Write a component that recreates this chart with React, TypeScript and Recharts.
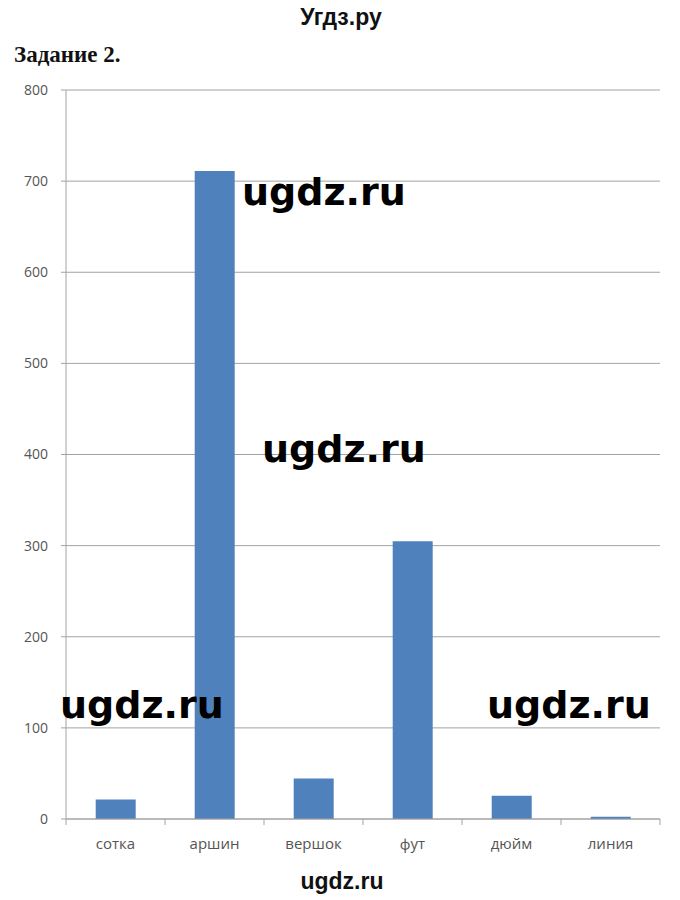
import React from 'react';
import { BarChart, Bar, XAxis, YAxis, CartesianGrid } from 'recharts';

// old Russian length units, in millimetres
const units = ['сотка', 'аршин', 'вершок', 'фут', 'дюйм', 'линия'];
const lengthsMm = [21.336, 711.2, 44.45, 304.8, 25.4, 2.54];
const yTicks = [0, 100, 200, 300, 400, 500, 600, 700, 800];

const data = units.map((name, i) => ({ name, mm: lengthsMm[i] }));

const W = 680;
const H = 900;
const LEFT = 66;
const RIGHT = 20;
const PLOT_W = W - LEFT - RIGHT;
const STEP = PLOT_W / units.length;

const GRID = '#a3a3a3';
const LABEL = '#555';
const AXIS_FONT = "'Open Sans', 'Liberation Sans', Arial, sans-serif";

const CategoryTick = (props: any) => {
  const { x, y, payload, index } = props;
  const isLast = index === units.length - 1;
  return (
    <g>
      <line x1={x - STEP / 2} x2={x - STEP / 2} y1={y} y2={y + 6} stroke={GRID} />
      {isLast && <line x1={x + STEP / 2} x2={x + STEP / 2} y1={y} y2={y + 6} stroke={GRID} />}
      <text x={x} y={y + 30} textAnchor="middle" fill={LABEL} fontSize={15} fontFamily={AXIS_FONT}>
        {payload.value}
      </text>
    </g>
  );
};

const marks = [
  { x: 242, y: 205 },
  { x: 262, y: 462 },
  { x: 60, y: 718 },
  { x: 487, y: 718 },
];

const App: React.FC = () => {
  return (
    <div style={{ position: 'absolute', left: 0, top: 0, width: W, height: H, background: '#fff' }}>
      <BarChart
        width={W}
        height={H}
        data={data}
        margin={{ top: 90, right: RIGHT, bottom: 41, left: 0 }}
        barCategoryGap="30%"
      >
        <CartesianGrid vertical={false} stroke={GRID} />
        <XAxis
          dataKey="name"
          height={40}
          interval={0}
          tickSize={0}
          tickMargin={0}
          axisLine={{ stroke: GRID }}
          tickLine={false}
          tick={<CategoryTick />}
        />
        <YAxis
          width={LEFT}
          domain={[0, 800]}
          ticks={yTicks}
          interval={0}
          tickSize={5}
          tickMargin={13}
          axisLine={{ stroke: GRID }}
          tickLine={{ stroke: GRID }}
          tick={{ fill: LABEL, fontSize: 14, fontFamily: AXIS_FONT }}
        />
        <Bar dataKey="mm" fill="#4f81bd" isAnimationActive={false} />
      </BarChart>
      <svg width={W} height={H} style={{ position: 'absolute', left: 0, top: 0, pointerEvents: 'none' }}>
        <text x={341} y={25} textAnchor="middle" fontSize={23} fontWeight="bold" fontFamily="'Liberation Sans', Arial, sans-serif" fill="#111">
          Угдз.ру
        </text>
        <text x={14} y={62} fontSize={23} fontWeight="bold" fontFamily="'Liberation Serif', 'Times New Roman', serif" fill="#111">
          Задание 2.
        </text>
        {marks.map((m, i) => (
          <text key={i} x={m.x} y={m.y} fontSize={38} fontWeight="bold" fontFamily="'DejaVu Sans', Verdana, sans-serif" fill="#000">
            ugdz.ru
          </text>
        ))}
        <text x={342} y={889} textAnchor="middle" fontSize={23} fontWeight="bold" fontFamily="'Liberation Sans', Arial, sans-serif" fill="#111">
          ugdz.ru
        </text>
      </svg>
    </div>
  );
};

export default App;
